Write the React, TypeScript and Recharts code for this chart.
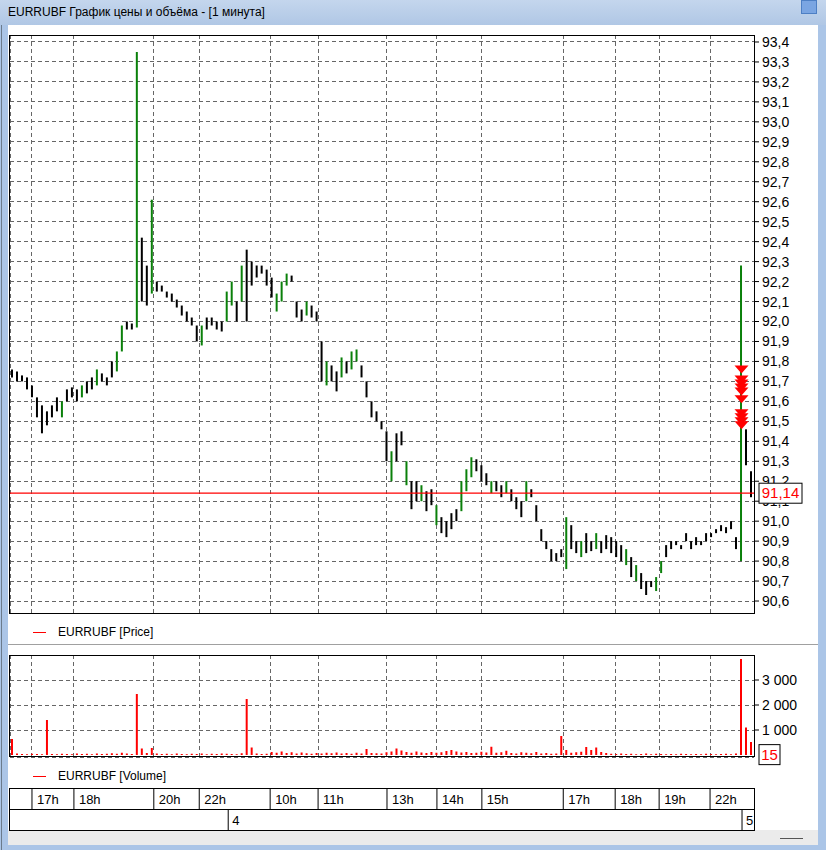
import React from 'react';
import {
  ComposedChart,
  Bar,
  Cell,
  Scatter,
  XAxis,
  YAxis,
  CartesianGrid,
  ReferenceLine,
} from 'recharts';

// one bar per slot, left to right
const priceLow = [
  91.72, 91.7, 91.7, 91.66, 91.62, 91.52, 91.44, 91.48, 91.52, 91.55,
  91.52, 91.6, 91.62, 91.6, 91.62, 91.64, 91.66, 91.68, 91.7, 91.68,
  91.72, 91.75, 91.85, 91.96, 91.96, 91.97, 92.1, 92.08, 92.14, 92.15,
  92.15, 92.12, 92.1, 92.07, 92.03, 92.0, 91.98, 91.9, 91.88, 91.96,
  91.98, 91.96, 91.95, 92.0, 92.08, 92.0, 92.1, 92.0, 92.18, 92.22,
  92.24, 92.18, 92.12, 92.05, 92.1, 92.18, 92.2, 92.02, 92.0, 92.03,
  92.02, 92.0, 91.7, 91.68, 91.7, 91.65, 91.72, 91.74, 91.76, 91.8,
  91.72, 91.62, 91.52, 91.5, 91.46, 91.3, 91.2, 91.3, 91.38, 91.18,
  91.06, 91.1, 91.1, 91.05, 91.08, 90.98, 90.94, 90.92, 90.96, 91.0,
  91.05, 91.15, 91.22, 91.25, 91.2, 91.18, 91.14, 91.15, 91.12, 91.14,
  91.1, 91.06, 91.02, 91.1, 91.12, 91.0, 90.9, 90.86, 90.8, 90.8,
  90.82, 90.76, 90.86, 90.84, 90.82, 90.84, 90.85, 90.86, 90.84, 90.86,
  90.84, 90.82, 90.8, 90.78, 90.72, 90.7, 90.66, 90.63, 90.67, 90.65,
  90.74, 90.82, 90.86, 90.88, 90.86, 90.9, 90.86, 90.88, 90.88, 90.9,
  90.92, 90.94, 90.95, 90.94, 90.96, 90.86, 90.8, 91.28, 91.12,
];
const priceHigh = [
  91.76, 91.75, 91.73, 91.72, 91.68, 91.62, 91.58, 91.55, 91.58, 91.62,
  91.6, 91.66, 91.67, 91.66, 91.68, 91.7, 91.72, 91.76, 91.74, 91.72,
  91.8, 91.85, 91.98, 92.0, 91.99, 93.35, 92.42, 92.28, 92.61, 92.2,
  92.18, 92.15, 92.14, 92.11, 92.08, 92.05, 92.02, 91.98, 91.98, 92.02,
  92.02, 92.0, 92.0, 92.15, 92.2, 92.1, 92.28, 92.36, 92.3, 92.28,
  92.28, 92.26, 92.22, 92.14, 92.2, 92.24, 92.23, 92.1, 92.06, 92.1,
  92.08, 92.05, 91.9, 91.8, 91.78, 91.75, 91.82, 91.8, 91.85, 91.86,
  91.78, 91.7, 91.6, 91.55, 91.5, 91.45, 91.35, 91.44, 91.45, 91.3,
  91.2, 91.2, 91.18, 91.15, 91.16, 91.08, 91.02, 91.0, 91.04, 91.06,
  91.2, 91.26, 91.32, 91.31, 91.28, 91.24, 91.2, 91.2, 91.18, 91.2,
  91.16, 91.12, 91.1, 91.2, 91.16, 91.08, 90.96, 90.9, 90.86, 90.84,
  90.86, 91.02, 90.98, 90.9, 90.9, 90.94, 90.9, 90.94, 90.9, 90.93,
  90.92, 90.9, 90.88, 90.86, 90.82, 90.78, 90.74, 90.7, 90.7, 90.72,
  90.8, 90.88, 90.9, 90.9, 90.88, 90.94, 90.9, 90.92, 90.9, 90.94,
  90.94, 90.96, 90.98, 90.97, 91.0, 90.92, 92.28, 91.46, 91.25,
];
// 1 = rising bar (green), 0 = falling (black)
const barUp = [
  0, 0, 0, 0, 0, 0, 0, 0, 0, 0,
  1, 0, 0, 0, 1, 0, 0, 1, 0, 0,
  0, 1, 1, 0, 0, 1, 0, 0, 1, 0,
  0, 0, 0, 0, 0, 0, 0, 0, 1, 0,
  0, 0, 0, 1, 1, 0, 1, 0, 0, 0,
  0, 0, 0, 1, 1, 1, 0, 0, 0, 1,
  0, 0, 0, 1, 0, 0, 1, 0, 1, 1,
  0, 0, 0, 0, 0, 0, 1, 0, 0, 1,
  0, 0, 1, 0, 0, 1, 0, 0, 0, 0,
  1, 1, 1, 0, 0, 0, 1, 0, 0, 1,
  0, 0, 0, 1, 0, 0, 0, 0, 0, 0,
  0, 1, 0, 0, 1, 0, 0, 1, 0, 0,
  0, 0, 0, 1, 0, 1, 0, 0, 0, 1,
  1, 0, 0, 0, 0, 0, 0, 0, 0, 0,
  0, 0, 0, 0, 0, 0, 1, 0, 0,
];
const volumes = [
  640, 60, 40, 30, 50, 40, 30, 1400, 40, 30,
  50, 40, 30, 60, 40, 50, 30, 60, 40, 50,
  70, 50, 90, 60, 40, 2440, 260, 80, 280, 60,
  40, 50, 30, 60, 40, 30, 50, 40, 60, 30,
  50, 40, 60, 50, 40, 30, 70, 2240, 300, 60,
  40, 50, 120, 90, 140, 80, 110, 60, 100, 70,
  50, 80, 60, 90, 70, 100, 60, 80, 50, 90,
  60, 240, 80, 70, 60, 110, 140, 260, 180, 120,
  90, 140, 100, 80, 120, 90, 110, 160, 200, 140,
  100, 120, 80, 90, 130, 100, 330, 90, 110, 170,
  80, 60, 110, 90, 70, 120, 60, 80, 50, 60,
  760, 200, 90, 110, 130, 320, 200, 300, 120, 80,
  50, 40, 60, 40, 50, 30, 40, 60, 30, 50,
  40, 30, 40, 30, 50, 40, 30, 40, 30, 50,
  40, 30, 40, 50, 30, 60, 3840, 1100, 520,
];

const priceTicks = [
  90.6, 90.7, 90.8, 90.9, 91.0, 91.1, 91.2, 91.3, 91.4, 91.5,
  91.6, 91.7, 91.8, 91.9, 92.0, 92.1, 92.2, 92.3, 92.4, 92.5,
  92.6, 92.7, 92.8, 92.9, 93.0, 93.1, 93.2, 93.3, 93.4,
];
const volumeTicks = [1000, 2000, 3000];
const hourLabels = ['17h', '18h', '20h', '22h', '10h', '11h', '13h', '14h', '15h', '17h', '18h', '19h', '22h'];
const hourStarts = [3.9, 12.3, 28.3, 37.4, 51.6, 61.2, 75.0, 85.0, 94.0, 110.3, 120.7, 129.5, 139.7];
const dayLabels = ['4', '5'];
const dayStarts = [43.2, 146.1];
const sellSignals = [91.76, 91.71, 91.69, 91.67, 91.65, 91.61, 91.54, 91.52, 91.5, 91.48];
const signalBar = 146;
const lastPrice = 91.14;
const lastVolume = 15;

const bars = priceLow.map((lo, i) => ({
  i,
  range: [lo, priceHigh[i]],
  up: barUp[i],
  v: volumes[i],
}));
const sells = sellSignals.map((p) => ({ i: signalBar, p }));

const X_DOMAIN = [-0.5, bars.length - 0.5];
const FONT = '"Liberation Sans", Arial, sans-serif';

const fmtPrice = (v: number) => v.toFixed(1).replace('.', ',');
const fmtVolume = (v: number) => String(v).replace(/\B(?=(\d{3})+(?!\d))/g, ' ');

const SellArrow = (props: any) => {
  const { cx, cy } = props;
  return (
    <polygon
      points={`${cx - 7},${cy - 4} ${cx + 7},${cy - 4} ${cx},${cy + 4}`}
      fill="#ff0000"
    />
  );
};

const ValueTag = (props: any) => {
  const { viewBox, text, w } = props;
  if (!viewBox) return null;
  const x = viewBox.x + viewBox.width + 5;
  const y = viewBox.y;
  return (
    <g>
      <rect x={x} y={y - 10} width={w} height={20} fill="#fff" stroke="#000" />
      <text x={x + w / 2} y={y + 5} textAnchor="middle" fontSize={15} fill="#ff0000">
        {text}
      </text>
    </g>
  );
};

const HourTick = (props: any) => {
  const { x, y, payload } = props;
  const k = hourStarts.indexOf(payload.value);
  return (
    <g>
      <line x1={x} x2={x} y1={y + 31} y2={y + 52} stroke="#000" />
      <text x={x + 5} y={y + 47} fontSize={13} fill="#000">
        {hourLabels[k]}
      </text>
    </g>
  );
};

const DayTick = (props: any) => {
  const { x, y, payload } = props;
  const k = dayStarts.indexOf(payload.value);
  return (
    <g>
      <line x1={x} x2={x} y1={y} y2={y + 21} stroke="#000" />
      <text x={x + 4} y={y + 16} fontSize={13} fill="#000">
        {dayLabels[k]}
      </text>
    </g>
  );
};

const box = (left: number, top: number, width: number, height: number): React.CSSProperties => ({
  position: 'absolute',
  left,
  top,
  width,
  height,
  boxSizing: 'border-box',
  border: '1px solid #000',
  pointerEvents: 'none',
});

function LegendRow({ top, text }: { top: number; text: string }) {
  return (
    <div style={{ position: 'absolute', left: 33, top, fontSize: 12, color: '#000', whiteSpace: 'nowrap' }}>
      <span style={{ display: 'inline-block', width: 13, height: 1, background: '#ff0000', verticalAlign: 'middle', marginRight: 12 }} />
      {text}
    </div>
  );
}

export default function App() {
  return (
    <div
      style={{
        position: 'absolute',
        left: 0,
        top: 0,
        width: 826,
        height: 850,
        overflow: 'hidden',
        background: '#abc5e7',
        fontFamily: FONT,
      }}
    >
      {/* window chrome */}
      <div style={{ position: 'absolute', left: 0, top: 0, width: 826, height: 25, background: 'linear-gradient(#c4d6ed, #b0c7e5)' }} />
      <div style={{ position: 'absolute', left: 8, top: 5, fontSize: 12, color: '#000', whiteSpace: 'nowrap' }}>
        EURRUBF График цены и объёма - [1 минута]
      </div>
      <div style={{ position: 'absolute', left: 801, top: 0, width: 16, height: 14, background: '#7aa5e2', border: '1px solid #4d7fc4', boxSizing: 'border-box' }} />
      <div style={{ position: 'absolute', left: 1, top: 25, width: 1, height: 825, background: '#6b7b8c' }} />
      <div style={{ position: 'absolute', left: 8, top: 25, width: 810, height: 805, background: '#fff' }} />
      <div style={{ position: 'absolute', left: 8, top: 830, width: 810, height: 15, background: '#ebebeb' }} />
      <div style={{ position: 'absolute', left: 780, top: 838, width: 23, height: 1, background: '#555' }} />
      <div style={{ position: 'absolute', left: 8, top: 644, width: 810, height: 1, background: '#a0a0a0' }} />

      {/* price panel */}
      <div style={{ position: 'absolute', left: 0, top: 0 }}>
        <ComposedChart
          width={826}
          height={620}
          data={bars}
          margin={{ top: 35, right: 12, bottom: 7, left: 10 }}
        >
          <CartesianGrid stroke="#666" strokeDasharray="4 3" shapeRendering="crispEdges" />
          <XAxis dataKey="i" type="number" domain={X_DOMAIN} ticks={hourStarts} interval={0} hide />
          <YAxis
            orientation="right"
            width={60}
            domain={[90.54, 93.435]}
            ticks={priceTicks}
            interval={0}
            tickFormatter={fmtPrice}
            axisLine={false}
            tickSize={5}
            tickMargin={3}
            tickLine={{ stroke: '#000' }}
            tick={{ fill: '#000', fontSize: 14 }}
            allowDataOverflow
          />
          <Bar dataKey="range" barSize={2} isAnimationActive={false}>
            {bars.map((b) => (
              <Cell key={b.i} fill={b.up ? '#0a800a' : '#000'} />
            ))}
          </Bar>
          <Scatter data={sells} dataKey="p" shape={<SellArrow />} isAnimationActive={false} />
          <ReferenceLine
            y={lastPrice}
            stroke="#ff0000"
            strokeWidth={1.2}
            zIndex={3000}
            label={<ValueTag text={lastPrice.toFixed(2).replace('.', ',')} w={43} />}
          />
        </ComposedChart>
      </div>
      <div style={box(9, 35, 746, 579)} />
      <LegendRow top={625} text="EURRUBF [Price]" />

      {/* volume panel + time strip */}
      <div style={{ position: 'absolute', left: 0, top: 645 }}>
        <ComposedChart
          width={826}
          height={190}
          data={bars}
          margin={{ top: 10, right: 12, bottom: 5, left: 10 }}
        >
          <CartesianGrid stroke="#666" strokeDasharray="4 3" shapeRendering="crispEdges" />
          <XAxis
            dataKey="i"
            type="number"
            domain={X_DOMAIN}
            ticks={hourStarts}
            interval={0}
            height={52}
            axisLine={false}
            tickLine={false}
            tickSize={0}
            tickMargin={0}
            tick={<HourTick />}
          />
          <XAxis
            xAxisId="day"
            dataKey="i"
            type="number"
            domain={X_DOMAIN}
            ticks={dayStarts}
            interval={0}
            height={21}
            axisLine={false}
            tickLine={false}
            tickSize={0}
            tickMargin={0}
            tick={<DayTick />}
          />
          <YAxis
            orientation="right"
            width={60}
            domain={[-80, 4000]}
            ticks={volumeTicks}
            interval={0}
            tickFormatter={fmtVolume}
            axisLine={false}
            tickSize={5}
            tickMargin={3}
            tickLine={{ stroke: '#000' }}
            tick={{ fill: '#000', fontSize: 14 }}
            allowDataOverflow
          />
          <Bar dataKey="v" fill="#ff0000" barSize={2} isAnimationActive={false} />
          <ReferenceLine
            y={lastVolume}
            stroke="none"
            zIndex={3000}
            label={<ValueTag text={String(lastVolume)} w={21} />}
          />
        </ComposedChart>
      </div>
      <div style={box(9, 655, 746, 102)} />
      <LegendRow top={769} text="EURRUBF [Volume]" />
      <div style={box(9, 788, 746, 43)} />
      <div style={{ position: 'absolute', left: 9, top: 809, width: 746, height: 1, background: '#000' }} />
    </div>
  );
}
